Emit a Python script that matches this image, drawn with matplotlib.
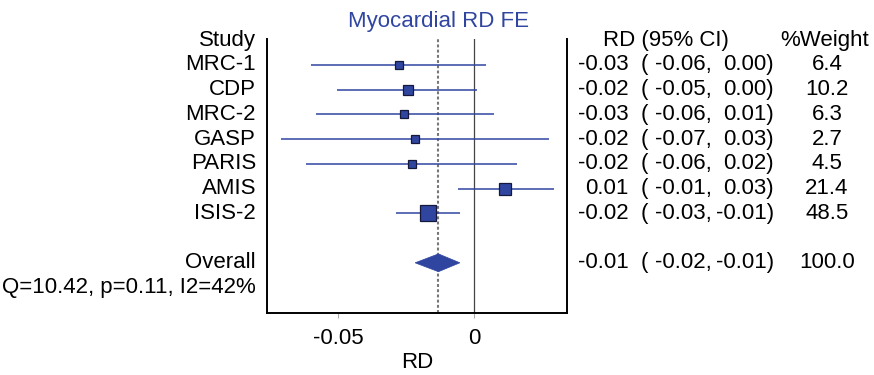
import numpy as np
import matplotlib
matplotlib.use("Agg")
import matplotlib.pyplot as plt
from matplotlib.transforms import blended_transform_factory
from matplotlib.patches import Polygon

# Study-level risk differences (fixed-effect meta-analysis)
studies = ["MRC-1", "CDP", "MRC-2", "GASP", "PARIS", "AMIS", "ISIS-2"]
rd = [-0.0275, -0.0245, -0.0257, -0.0218, -0.0230, 0.0115, -0.0170]
ci_low = [-0.0599, -0.0504, -0.0583, -0.0712, -0.0618, -0.0060, -0.0289]
ci_high = [0.0045, 0.0010, 0.0072, 0.0275, 0.0157, 0.0294, -0.0051]
weights = [6.4, 10.2, 6.3, 2.7, 4.5, 21.4, 48.5]

overall_rd = -0.0131
overall_low = -0.0217
overall_high = -0.0052
overall_weight = 100.0
het_text = "Q=10.42, p=0.11, I2=42%"

xticks = [-0.05, 0]
xtick_labels = ["-0.05", "0"]

BLUE = "#2f45a0"
FONT = "Liberation Sans"
FS = 16

plt.rcParams["font.family"] = [FONT, "DejaVu Sans"]

W, H = 874, 375
fig = plt.figure(figsize=(W / 100, H / 100), dpi=100)
ax = fig.add_axes([267 / W, 1 - 313 / H, 300 / W, 274 / H])

ax.set_xlim(-0.07627, 0.03427)
ax.set_ylim(11.03, -0.05)

# reference lines
ax.axvline(0, color="#444444", lw=0.9, zorder=1)
ax.axvline(overall_rd, color="#777777", lw=1.5, dashes=(1.4, 1.1), zorder=1)

rows = np.arange(1, len(studies) + 1)
for y, est, lo, hi, w in zip(rows, rd, ci_low, ci_high, weights):
    ax.plot([lo, hi], [y, y], color=BLUE, lw=1.1, solid_capstyle="butt", zorder=2)
    side_px = max(7.3, 4.15 * np.log(w) - 0.4)
    ax.plot(est, y, marker="s", ms=side_px * 0.72, mfc=BLUE, mec="#15183a",
            mew=0.9, zorder=3)

# pooled estimate diamond
y_ov = len(studies) + 2
half_h = 0.36
ax.add_patch(Polygon([[overall_low, y_ov], [overall_rd, y_ov - half_h],
                      [overall_high, y_ov], [overall_rd, y_ov + half_h]],
                     closed=True, facecolor=BLUE, edgecolor=BLUE, lw=0.5, zorder=3))

# axes styling
ax.spines["top"].set_visible(False)
for s in ("left", "right", "bottom"):
    ax.spines[s].set_linewidth(1.4)
    ax.spines[s].set_color("black")
ax.set_yticks([])
ax.set_xticks(xticks)
ax.set_xticklabels(xtick_labels, fontsize=FS)
ax.tick_params(axis="x", length=3.5, width=0.8, color="#aaaaaa", pad=7)
ax.set_xlabel("RD", fontsize=FS, va="center")
ax.xaxis.set_label_coords(0.5, (313 - 363) / 274)

# text columns
tr = blended_transform_factory(fig.transFigure, ax.transData)
def fx(px):
    return px / W

LX = 256
ax.text(fx(LX), 0, "Study", transform=tr, ha="right", va="center", fontsize=FS)
for y, name in zip(rows, studies):
    ax.text(fx(LX), y, name, transform=tr, ha="right", va="center", fontsize=FS)
ax.text(fx(LX), y_ov, "Overall", transform=tr, ha="right", va="center", fontsize=FS)
ax.text(fx(LX), y_ov + 1, het_text, transform=tr, ha="right", va="center", fontsize=FS)

ax.text(fx(666), 0, "RD (95% CI)", transform=tr, ha="center", va="center", fontsize=FS)
ax.text(fx(825), 0, "%Weight", transform=tr, ha="center", va="center", fontsize=FS)

all_rows = list(rows) + [y_ov]
all_est = rd + [overall_rd]
all_lo = ci_low + [overall_low]
all_hi = ci_high + [overall_high]
all_w = weights + [overall_weight]
for y, est, lo, hi, w in zip(all_rows, all_est, all_lo, all_hi, all_w):
    ax.text(fx(629), y, f"{est:.2f}", transform=tr, ha="right", va="center", fontsize=FS)
    ax.text(fx(641), y, "(", transform=tr, ha="left", va="center", fontsize=FS)
    ax.text(fx(712), y, f"{lo:.2f},", transform=tr, ha="right", va="center", fontsize=FS)
    ax.text(fx(774), y, f"{hi:.2f})", transform=tr, ha="right", va="center", fontsize=FS)
    ax.text(fx(827), y, f"{w:.1f}", transform=tr, ha="center", va="center", fontsize=FS)

fig.text(438 / W, 1 - 21 / H, "Myocardial RD FE", ha="center", va="center",
         fontsize=FS, color=BLUE)

fig.savefig("out.png", dpi=100)
